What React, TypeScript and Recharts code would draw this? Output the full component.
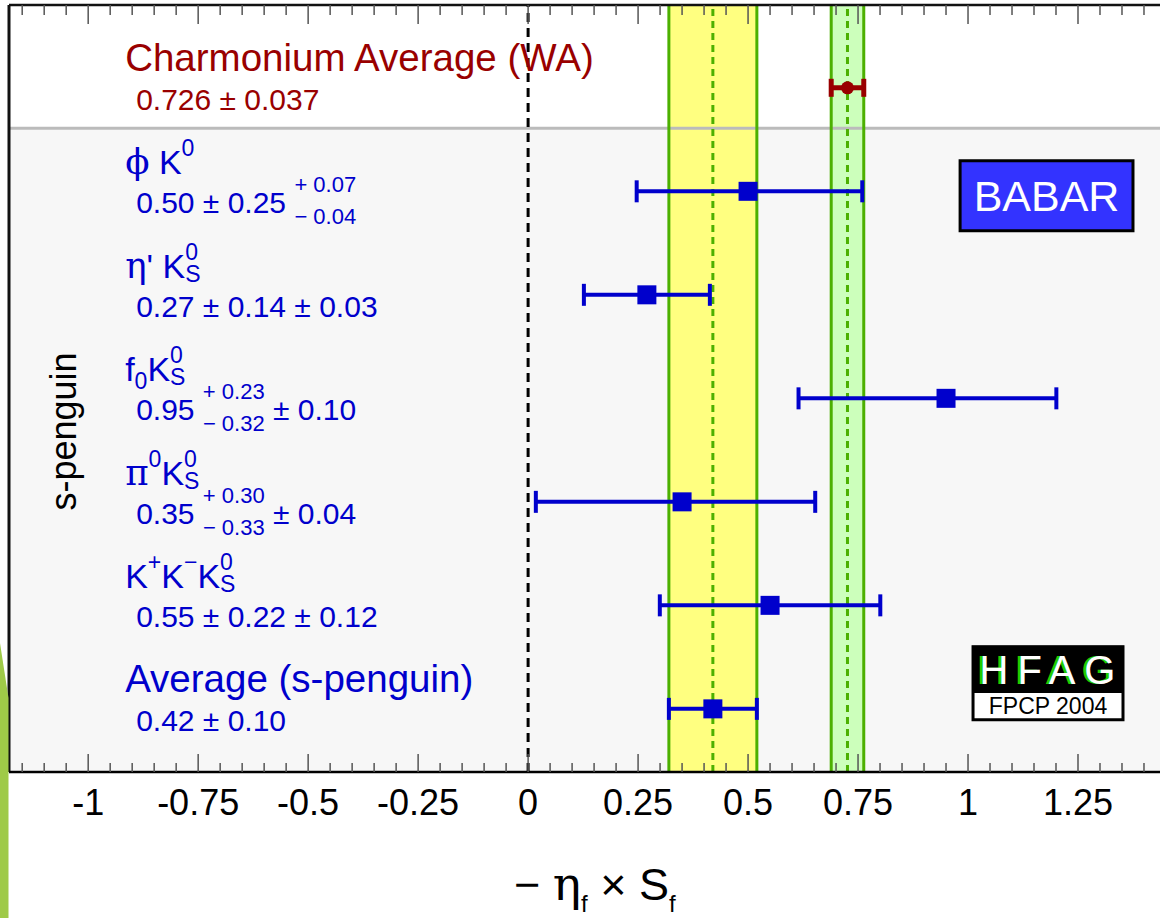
import React from 'react';
import {
  ComposedChart,
  Scatter,
  XAxis,
  YAxis,
  ErrorBar,
  ReferenceArea,
  ReferenceLine,
  ReferenceDot,
} from 'recharts';

// ---------------- data ----------------
const ROW_NAMES = [
  'Charmonium Average (WA)',
  'ϕ K^{0}',
  "η' K^{0}_{S}",
  'f_{0}K^{0}_{S}',
  'π^{0}K^{0}_{S}',
  'K^{+}K^{−}K^{0}_{S}',
  'Average (s-penguin)',
];
const ROW_VALUE_TEXT = [
  '0.726 ± 0.037',
  '0.50 ± 0.25 ^{+ 0.07}_{− 0.04}',
  '0.27 ± 0.14 ± 0.03',
  '0.95 ^{+ 0.23}_{− 0.32} ± 0.10',
  '0.35 ^{+ 0.30}_{− 0.33} ± 0.04',
  '0.55 ± 0.22 ± 0.12',
  '0.42 ± 0.10',
];
const CENTRAL = [0.726, 0.5, 0.27, 0.95, 0.35, 0.55, 0.42];
const STAT_PLUS = [0.037, 0.25, 0.14, 0.23, 0.3, 0.22, 0.1];
const STAT_MINUS = [0.037, 0.25, 0.14, 0.32, 0.33, 0.22, 0.1];
const SYST_PLUS = [0, 0.07, 0.03, 0.1, 0.04, 0.12, 0];
const SYST_MINUS = [0, 0.04, 0.03, 0.1, 0.04, 0.12, 0];
const ROW_POS = [7, 6, 5, 4, 3, 2, 1];

const MAJOR_TICKS = [-1, -0.75, -0.5, -0.25, 0, 0.25, 0.5, 0.75, 1, 1.25];
const TICK_LABELS = ['-1', '-0.75', '-0.5', '-0.25', '0', '0.25', '0.5', '0.75', '1', '1.25'];
const X_DOMAIN: [number, number] = [-1.18, 1.4364];
const Y_DOMAIN: [number, number] = [0.39, 7.8];
const SEPARATOR_Y = 6.61;
const LABEL_X = -0.916;

// ---------------- layout / style ----------------
const FONT = '"Liberation Sans", Arial, Helvetica, sans-serif';
const GREEK = '"DejaVu Serif", "Liberation Serif", serif';
const BLUE = '#0000cc';
const RED = '#990000';
const GREEN_EDGE = '#4cb000';
const PLOT_TOP = 5;
const PLOT_HEIGHT = 767;

const quad = (a: number, b: number) => Math.sqrt(a * a + b * b);
const errLow = CENTRAL.map((_, i) => quad(STAT_MINUS[i], SYST_MINUS[i]));
const errHigh = CENTRAL.map((_, i) => quad(STAT_PLUS[i], SYST_PLUS[i]));

const charmData = [{ x: CENTRAL[0], y: ROW_POS[0], err: [errLow[0], errHigh[0]] }];
const penguinData = CENTRAL.slice(1).map((v, k) => ({
  x: v,
  y: ROW_POS[k + 1],
  err: [errLow[k + 1], errHigh[k + 1]],
}));
const labelData = ROW_NAMES.map((n, i) => ({ x: LABEL_X, y: ROW_POS[i], name: n, value: ROW_VALUE_TEXT[i], idx: i }));

const minorTicks: number[] = [];
for (let k = -23; k <= 28; k++) minorTicks.push(Math.round(k * 5) / 100);
const ALL_TICKS = Array.from(new Set([...minorTicks, ...MAJOR_TICKS])).sort((a, b) => a - b);
const isMajor = (v: number) => MAJOR_TICKS.some((m) => Math.abs(m - v) < 1e-6);
const tickLabel = (v: number) => {
  const i = MAJOR_TICKS.findIndex((m) => Math.abs(m - v) < 1e-6);
  return i >= 0 ? TICK_LABELS[i] : '';
};

type Tok = { kind: 'n' | 'sup' | 'sub'; s: string };
function parseRich(t: string): Tok[] {
  const out: Tok[] = [];
  let i = 0;
  let buf = '';
  while (i < t.length) {
    if ((t[i] === '^' || t[i] === '_') && t[i + 1] === '{') {
      if (buf) {
        out.push({ kind: 'n', s: buf });
        buf = '';
      }
      const end = t.indexOf('}', i);
      out.push({ kind: t[i] === '^' ? 'sup' : 'sub', s: t.slice(i + 2, end) });
      i = end + 1;
    } else {
      buf += t[i];
      i++;
    }
  }
  if (buf) out.push({ kind: 'n', s: buf });
  return out;
}
const CW: Record<string, number> = { '.': 0.278, ' ': 0.278, '+': 0.584, '−': 0.584, '±': 0.584, S: 0.667 };
const textWidth = (s: string, size: number) => [...s].reduce((a, c) => a + (CW[c] ?? 0.556), 0) * size;
const isGreek = (c: string) => /[\u0370-\u03ff]/.test(c);
function splitGreek(s: string) {
  const runs: { s: string; greek: boolean }[] = [];
  for (const c of s) {
    const g = isGreek(c);
    if (runs.length && runs[runs.length - 1].greek === g) runs[runs.length - 1].s += c;
    else runs.push({ s: c, greek: g });
  }
  return runs;
}

function Rich(props: {
  x: number;
  y: number;
  text: string;
  size: number;
  scriptSize: number;
  supDy: number;
  subDy: number;
  fill: string;
}) {
  const { x, y, text, size, scriptSize, supDy, subDy, fill } = props;
  const toks = parseRich(text);
  let level = 0;
  const spans: React.ReactNode[] = [];
  toks.forEach((tk, i) => {
    const stackedSub = tk.kind === 'sub' && i > 0 && toks[i - 1].kind === 'sup';
    const target = tk.kind === 'sup' ? supDy : tk.kind === 'sub' ? (stackedSub ? subDy : subDy + 4) : 0;
    const fs = tk.kind === 'n' ? size : scriptSize;
    let dx = 0;
    if (stackedSub) dx = -textWidth(toks[i - 1].s, scriptSize);
    if (tk.kind === 'n' && i >= 2 && toks[i - 1].kind === 'sub' && toks[i - 2].kind === 'sup') {
      const d = textWidth(toks[i - 2].s, scriptSize) - textWidth(toks[i - 1].s, scriptSize);
      if (d > 0) dx += d;
    }
    splitGreek(tk.s).forEach((r, j) => {
      spans.push(
        <tspan
          key={`${i}-${j}`}
          dx={j === 0 ? dx : 0}
          dy={j === 0 ? target - level : 0}
          fontSize={r.greek ? fs * 1.05 : fs}
          fontFamily={r.greek ? GREEK : FONT}
        >
          {r.s}
        </tspan>
      );
    });
    level = target;
  });
  return (
    <text x={x} y={y} fill={fill} fontFamily={FONT} style={{ whiteSpace: 'pre' }}>
      {spans}
    </text>
  );
}

const AxisTick = (p: any) => {
  const v = p.payload.value;
  const major = isMajor(v);
  const len = major ? 18 : 9;
  const topY = p.y - PLOT_HEIGHT;
  return (
    <g>
      <line x1={p.x} x2={p.x} y1={p.y} y2={p.y - len} stroke="#555" strokeWidth={1.5} />
      <line x1={p.x} x2={p.x} y1={topY} y2={topY + len + 1} stroke="#555" strokeWidth={1.5} />
      {major && (
        <text x={p.x} y={p.y + 43} textAnchor="middle" fontFamily={FONT} fontSize={36} fill="#000">
          {tickLabel(v)}
        </text>
      )}
    </g>
  );
};

const LabelShape = (p: any) => {
  const i = p.payload.idx;
  const big = i === 0 || i === 6;
  const color = i === 0 ? RED : BLUE;
  return (
    <g>
      <Rich x={p.cx} y={p.cy - 17} text={p.payload.name} size={big ? 38.5 : 34} scriptSize={23} supDy={-18} subDy={4} fill={color} />
      <Rich x={p.cx + 11} y={p.cy + 22} text={p.payload.value} size={30} scriptSize={22} supDy={-21} subDy={11} fill={color} />
    </g>
  );
};

const Square = (p: any) => <rect x={p.cx - 9.5} y={p.cy - 9.5} width={19} height={19} fill={BLUE} />;
const Dot = (p: any) => <circle cx={p.cx} cy={p.cy} r={6.5} fill={RED} />;

export default function App() {
  const avgLo = CENTRAL[6] - STAT_MINUS[6];
  const avgHi = CENTRAL[6] + STAT_PLUS[6];
  const chLo = CENTRAL[0] - STAT_MINUS[0];
  const chHi = CENTRAL[0] + STAT_PLUS[0];
  return (
    <div style={{ position: 'absolute', left: 0, top: 0, width: 1160, height: 918, background: '#fff', overflow: 'hidden' }}>
      <ComposedChart width={1160} height={918} margin={{ top: PLOT_TOP, right: 0, bottom: 0, left: 9 }}>
        <ReferenceArea y1={Y_DOMAIN[0]} y2={SEPARATOR_Y} fill="#f7f7f7" fillOpacity={1} stroke="none" />
        <ReferenceLine y={SEPARATOR_Y} stroke="#bbbbbb" strokeWidth={3} />
        <ReferenceArea x1={avgLo} x2={avgHi} fill="#ffff80" fillOpacity={1} stroke="none" />
        <ReferenceArea x1={chLo} x2={chHi} fill="#ccffbb" fillOpacity={1} stroke="none" />
        <ReferenceLine x={avgLo} stroke={GREEN_EDGE} strokeWidth={3} />
        <ReferenceLine x={avgHi} stroke={GREEN_EDGE} strokeWidth={3} />
        <ReferenceLine x={CENTRAL[6]} stroke={GREEN_EDGE} strokeWidth={3} strokeDasharray="7 5" />
        <ReferenceLine x={chLo} stroke={GREEN_EDGE} strokeWidth={3} />
        <ReferenceLine x={chHi} stroke={GREEN_EDGE} strokeWidth={3} />
        <ReferenceLine x={CENTRAL[0]} stroke={GREEN_EDGE} strokeWidth={3} strokeDasharray="7 5" />
        <ReferenceLine x={0} stroke="#000" strokeWidth={3} strokeDasharray="9 6" />
        <ReferenceLine x={X_DOMAIN[0]} stroke="#111" strokeWidth={3} />
        <ReferenceLine y={Y_DOMAIN[1]} stroke="#111" strokeWidth={2.5} />

        <XAxis
          type="number"
          dataKey="x"
          domain={X_DOMAIN}
          allowDataOverflow
          ticks={ALL_TICKS}
          interval={0}
          tickSize={0}
          tickMargin={0}
          tickLine={false}
          tick={AxisTick}
          height={146}
          axisLine={{ stroke: '#000', strokeWidth: 2.5 }}
          label={{
            content: (lp: any) => {
              const vb = lp.viewBox || { x: 9, y: 772 };
              return (
                <Rich x={vb.x + 505} y={vb.y + 128} text="− η_{f} × S_{f}" size={45} scriptSize={24} supDy={-14} subDy={8} fill="#000" />
              );
            },
          }}
        />
        <YAxis
          type="number"
          dataKey="y"
          domain={Y_DOMAIN}
          allowDataOverflow
          width={0}
          tick={false}
          tickLine={false}
          axisLine={{ stroke: '#000', strokeWidth: 2.5 }}
        />

        <ReferenceArea
          x1={0.982}
          x2={1.375}
          y1={5.618}
          y2={6.295}
          fill="#3333ff"
          fillOpacity={1}
          stroke="#000"
          strokeWidth={3}
          label={{
            content: (lp: any) => {
              const vb = lp.viewBox;
              return (
                <text x={vb.x + vb.width / 2} y={vb.y + vb.height / 2 + 15} textAnchor="middle" fontFamily={FONT} fontSize={43} fill="#fff">
                  BABAR
                </text>
              );
            },
          }}
        />
        <ReferenceArea x1={1.0114} x2={1.3523} y1={0.894} y2={1.599} fill="#fff" fillOpacity={1} stroke="#000" strokeWidth={3} />
        <ReferenceArea
          x1={1.0114}
          x2={1.3523}
          y1={1.164}
          y2={1.599}
          fill="#000"
          fillOpacity={1}
          stroke="#000"
          strokeWidth={2}
          label={{
            content: (lp: any) => {
              const vb = lp.viewBox;
              const cx = vb.x + vb.width / 2 + 4;
              const by = vb.y + vb.height / 2 + 15;
              return (
                <g fontFamily={FONT} fontSize={40} textAnchor="middle" letterSpacing={9}>
                  <text x={cx - 3} y={by} fill="#22cc00">HFAG</text>
                  <text x={cx} y={by} fill="#fff">HFAG</text>
                </g>
              );
            },
          }}
        />
        <ReferenceArea
          x1={1.0114}
          x2={1.3523}
          y1={0.9}
          y2={1.164}
          fill="#fff"
          fillOpacity={0}
          stroke="none"
          label={{
            content: (lp: any) => {
              const vb = lp.viewBox;
              return (
                <text x={vb.x + vb.width / 2} y={vb.y + vb.height / 2 + 8} textAnchor="middle" fontFamily={FONT} fontSize={23} fill="#000">
                  FPCP 2004
                </text>
              );
            },
          }}
        />
        <ReferenceDot
          x={-1.055}
          y={3.68}
          r={0}
          ifOverflow="visible"
          shape={(p: any) => (
            <text
              x={p.cx}
              y={p.cy}
              transform={`rotate(-90 ${p.cx} ${p.cy})`}
              textAnchor="middle"
              dominantBaseline="central"
              fontFamily={FONT}
              fontSize={36}
              fill="#000"
            >
              s-penguin
            </text>
          )}
        />

        <Scatter data={labelData} isAnimationActive={false} shape={LabelShape} />
        <Scatter data={penguinData} isAnimationActive={false} shape={Square}>
          <ErrorBar dataKey="err" direction="x" width={11} strokeWidth={4} stroke={BLUE} isAnimationActive={false} />
        </Scatter>
        <Scatter data={charmData} isAnimationActive={false} shape={Dot}>
          <ErrorBar dataKey="err" direction="x" width={9} strokeWidth={5} stroke={RED} isAnimationActive={false} />
        </Scatter>
      </ComposedChart>
      <div
        style={{
          position: 'absolute',
          left: 0,
          top: 0,
          width: 9,
          height: 918,
          background: '#9fca48',
          clipPath: 'polygon(0px 643px, 8.5px 698px, 8.5px 918px, 0px 918px)',
        }}
      />
    </div>
  );
}
